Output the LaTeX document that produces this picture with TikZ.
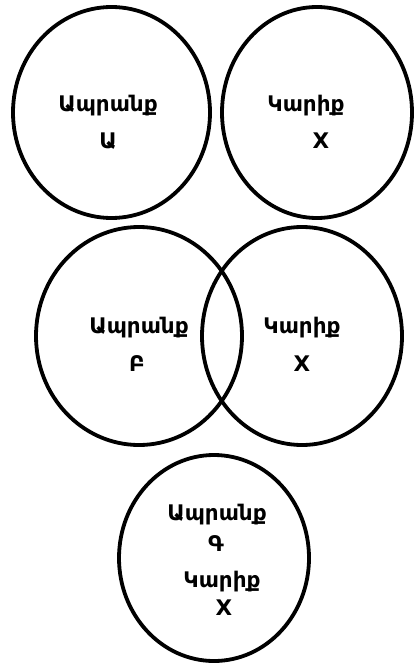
\documentclass[tikz,border=0pt]{standalone}
\usepackage{fontspec}
\setmainfont{DejaVu Sans}
\usetikzlibrary{shapes.geometric}
\tikzset{
  ring/.style={draw=black, ellipse, line width=3.8pt, inner sep=0pt},
  lbl/.style={anchor=base, font=\bfseries\fontsize{21.5}{21.5}\selectfont, inner sep=0pt}
}
\begin{document}
\begin{tikzpicture}[x=1pt,y=-1pt]
\useasboundingbox (0,0) rectangle (414,663);
% top row
\node[ring, minimum width=197pt, minimum height=211pt] (ta) at (111.5,112.5) {};
\node[ring, minimum width=190pt, minimum height=211pt] (tx) at (317,112.5) {};
\node[lbl] (ta1) at (108,112) {Ապրանք};
\node[lbl] (ta2) at (108,149) {Ա};
\node[lbl] (tx1) at (306,112) {Կարիք};
\node[lbl] (tx2) at (321,149) {X};
% middle row
\node[ring, minimum width=206pt, minimum height=218pt] (mb) at (139,336) {};
\node[ring, minimum width=200pt, minimum height=218pt] (mx) at (302,336) {};
\node[lbl] (mb1) at (139,333) {Ապրանք};
\node[lbl] (mb2) at (137,371) {Բ};
\node[lbl] (mx1) at (302,333) {Կարիք};
\node[lbl] (mx2) at (302,371) {X};
% bottom
\node[ring, minimum width=190pt, minimum height=206pt] (bg) at (214,558) {};
\node[lbl] (bg1) at (217,520) {Ապրանք};
\node[lbl] (bg2) at (216,551) {Գ};
\node[lbl] (bg3) at (222,587) {Կարիք};
\node[lbl] (bg4) at (224,615) {X};
\end{tikzpicture}
\end{document}
